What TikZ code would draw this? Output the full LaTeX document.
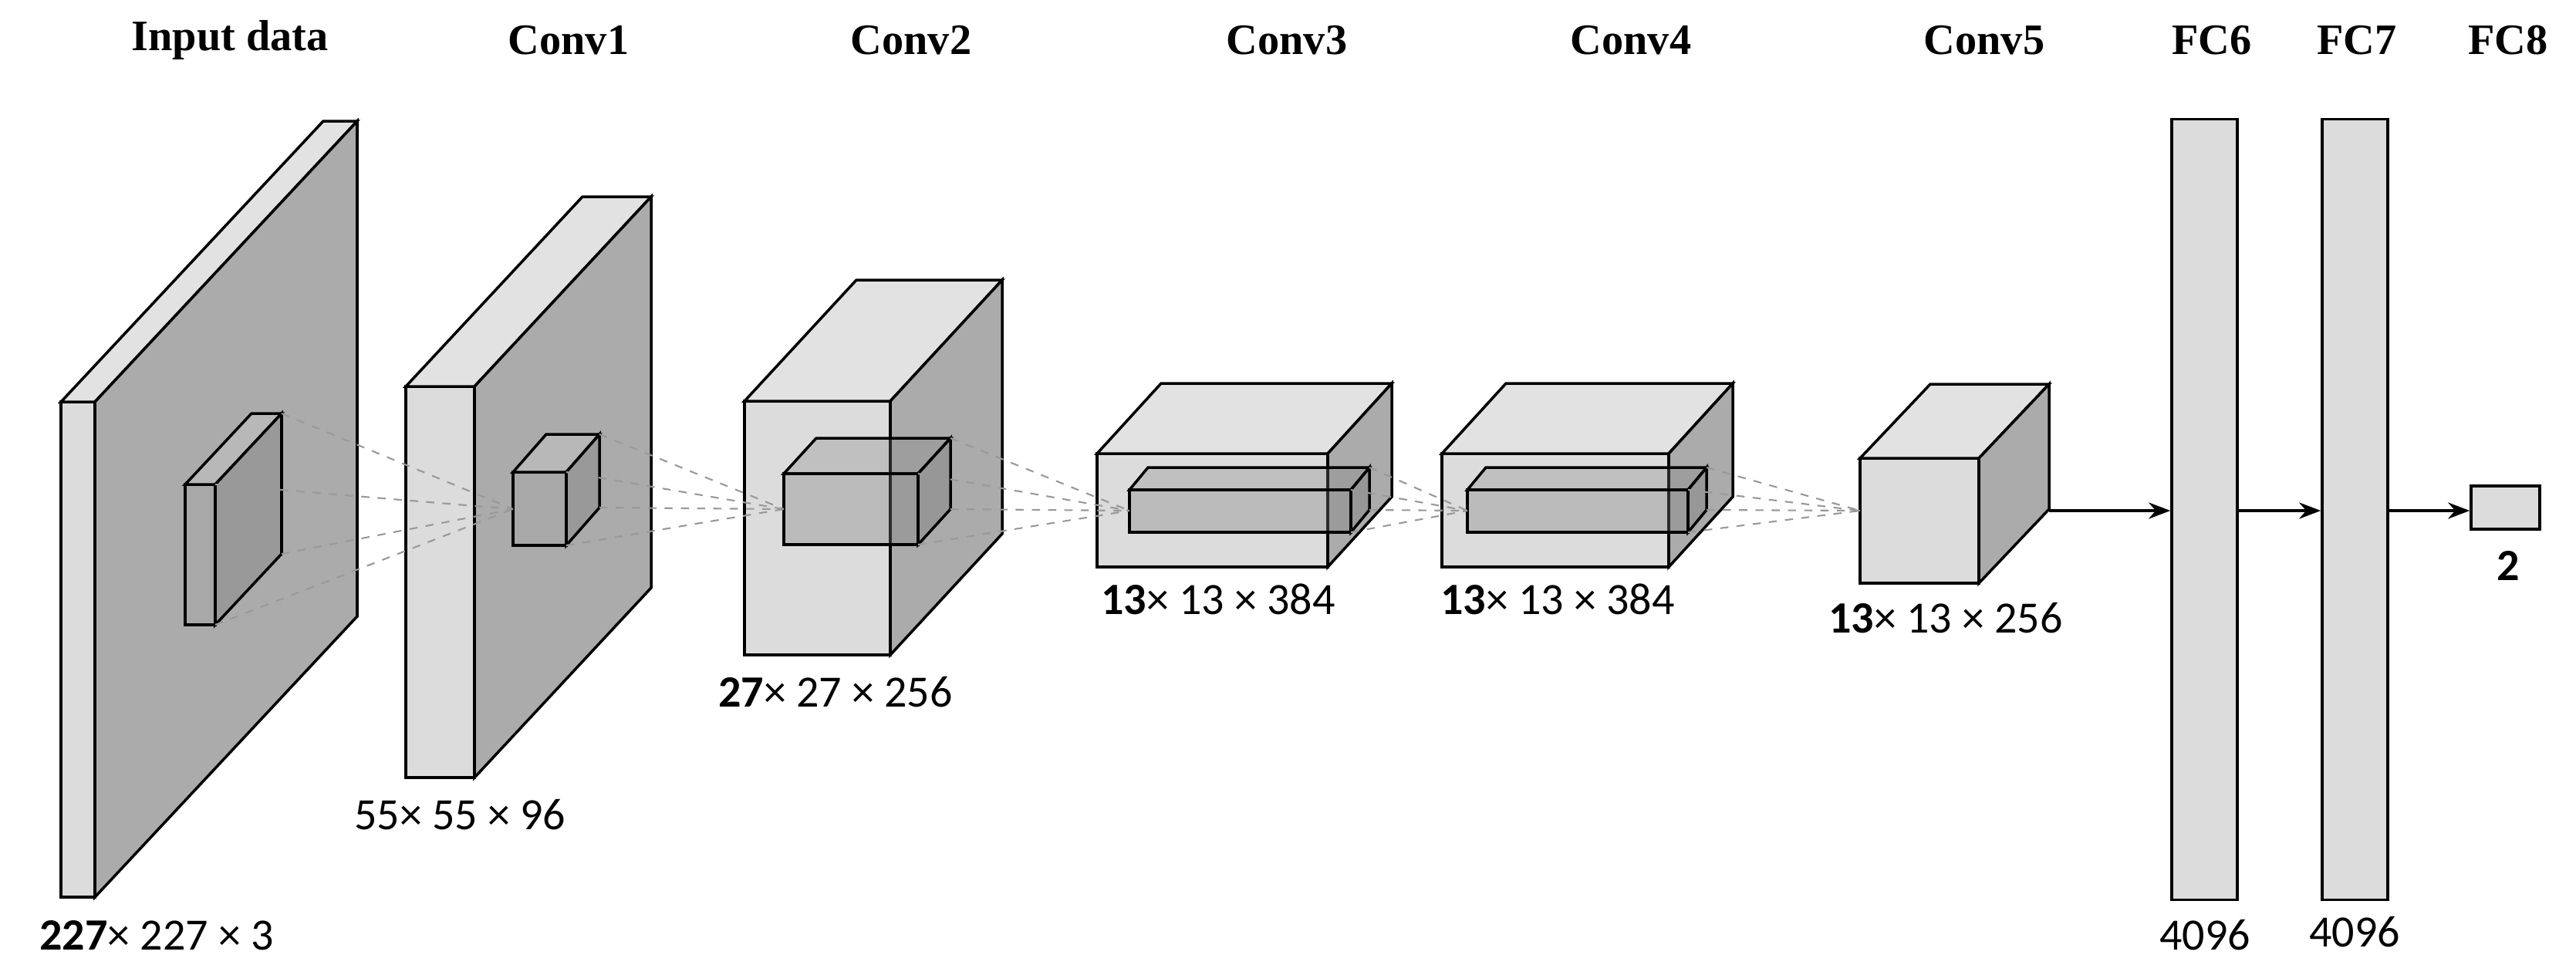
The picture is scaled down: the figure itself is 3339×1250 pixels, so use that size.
\documentclass[tikz,border=0pt]{standalone}
\usepackage{fontspec}
\setmainfont{Liberation Serif}
\newfontfamily\lblfont{Carlito}
\usetikzlibrary{arrows.meta}
\definecolor{lt}{HTML}{DCDCDC}
\definecolor{ltop}{HTML}{E2E2E2}
\definecolor{dk}{HTML}{ABABAB}
\definecolor{mid}{HTML}{A8A8A8}
\definecolor{midtop}{HTML}{B8B8B8}
\definecolor{middk}{HTML}{999999}
\tikzset{
  of/.style={draw=black,line width=1pt,fill=lt},
  ot/.style={draw=black,line width=1pt,fill=ltop},
  os/.style={draw=black,line width=1pt,fill=dk},
  If/.style={draw=black,line width=1pt,fill=mid},
  It/.style={draw=black,line width=1pt,fill=midtop},
  Is/.style={draw=black,line width=1pt,fill=middk},
  Tf/.style={draw=black,line width=1pt,fill=gray,fill opacity=0.35},
  Tt/.style={draw=black,line width=1pt,fill=gray,fill opacity=0.3},
  Ts/.style={draw=black,line width=1pt,fill=gray,fill opacity=0.45},
  ttl/.style={font=\bfseries\fontsize{16}{18}\selectfont},
  lbl/.style={font=\lblfont\fontsize{16.5}{18}\selectfont},
  dsh/.style={draw=gray!80,dashed,line width=0.6pt},
  arr/.style={draw=black,line width=1pt,-{Stealth[length=8pt,width=6pt]}}
}
\newcommand\mybox[7]{%
  \path[#7f] (#1,#2) rectangle (#3,#4);
  \path[#7t] (#1,#2) -- (#3,#2) -- ++(#5,#6) -- ([shift={(#5,#6)}]#1,#2) -- cycle;
  \path[#7s] (#3,#2) -- ++(#5,#6) -- ([shift={(#5,#6)}]#3,#4) -- (#3,#4) -- cycle;
}
\newcommand\rays[7]{% x2 y1 y2 dx dy target
  \draw[dsh] (#1,#2) -- (#6);
  \draw[dsh] (#1,#3) -- (#6);
  \draw[dsh] ([shift={(#4,#5)}]#1,#2) -- (#6);
  \draw[dsh] ([shift={(#4,#5)}]#1,#3) -- (#6);
}
\begin{document}
\begin{tikzpicture}[x=0.01cm,y=-0.01cm]
\useasboundingbox (0,0) rectangle (3339,1250);
% titles
\node[ttl] (t0) at (298,52) {Input data};
\node[ttl] (t1) at (737,52) {Conv1};
\node[ttl] (t2) at (1181,52) {Conv2};
\node[ttl] (t3) at (1668,52) {Conv3};
\node[ttl] (t4) at (2114,52) {Conv4};
\node[ttl] (t5) at (2572,52) {Conv5};
\node[ttl] (t6) at (2867,52) {FC6};
\node[ttl] (t7) at (3055,52) {FC7};
\node[ttl] (t8) at (3251,52) {FC8};
% input
\mybox{79}{521}{123}{1163}{340}{-364}{o}
\mybox{240}{628}{279}{810}{86}{-92}{I}
% conv1
\mybox{526}{501}{615}{1008}{229}{-246}{o}
\mybox{665}{612}{734}{707}{43}{-49}{I}
% conv2
\mybox{965}{520}{1154}{849}{145}{-157}{o}
\mybox{1016}{614}{1190}{706}{42}{-46}{T}
% conv3
\mybox{1422}{588}{1721}{735}{83}{-91}{o}
\mybox{1464}{635}{1751}{690}{24}{-29}{T}
% conv4
\mybox{1869}{588}{2163}{735}{83}{-91}{o}
\mybox{1902}{635}{2188}{690}{24}{-29}{T}
% conv5
\mybox{2411}{594}{2565}{756}{91}{-96}{o}
% FC
\node[of,minimum width=0.85cm,minimum height=10.11cm,inner sep=0pt] (fc6) at (2857.5,660.5) {};
\node[of,minimum width=0.85cm,minimum height=10.11cm,inner sep=0pt] (fc7) at (3052.5,660.5) {};
\node[of,minimum width=0.89cm,minimum height=0.56cm,inner sep=0pt] (fc8) at (3247.5,658) {};
% rays
\coordinate (c1) at (665,660);
\coordinate (c2) at (1016,660);
\coordinate (c3) at (1464,662);
\coordinate (c4) at (1902,662);
\coordinate (c5) at (2411,662);
\rays{279}{628}{810}{86}{-92}{c1}{}
\rays{734}{612}{707}{43}{-49}{c2}{}
\rays{1190}{614}{706}{42}{-46}{c3}{}
\rays{1751}{635}{690}{24}{-29}{c4}{}
\rays{2188}{635}{690}{24}{-29}{c5}{}
% arrows
\coordinate (a0) at (2656,662);
\draw[arr] (a0) -- (fc6.west |- a0);
\draw[arr] (fc6.east |- a0) -- (fc7.west |- a0);
\draw[arr] (fc7.east |- a0) -- (fc8.west |- a0);
% labels
\node[lbl] (l0) at (203,1213) {\textbf{227}× 227 × 3};
\node[lbl] (l1) at (596,1056) {55× 55 × 96};
\node[lbl] (l2) at (1083,897) {\textbf{27}× 27 × 256};
\node[lbl] (l3) at (1579,777) {\textbf{13}× 13 × 384};
\node[lbl] (l4) at (2019,777) {\textbf{13}× 13 × 384};
\node[lbl] (l5) at (2522,801) {\textbf{13}× 13 × 256};
\node[lbl] (l6) at (2858,1212) {4096};
\node[lbl] (l7) at (3052,1208) {4096};
\node[lbl] (l8) at (3251,733) {\textbf{2}};
\end{tikzpicture}
\end{document}
